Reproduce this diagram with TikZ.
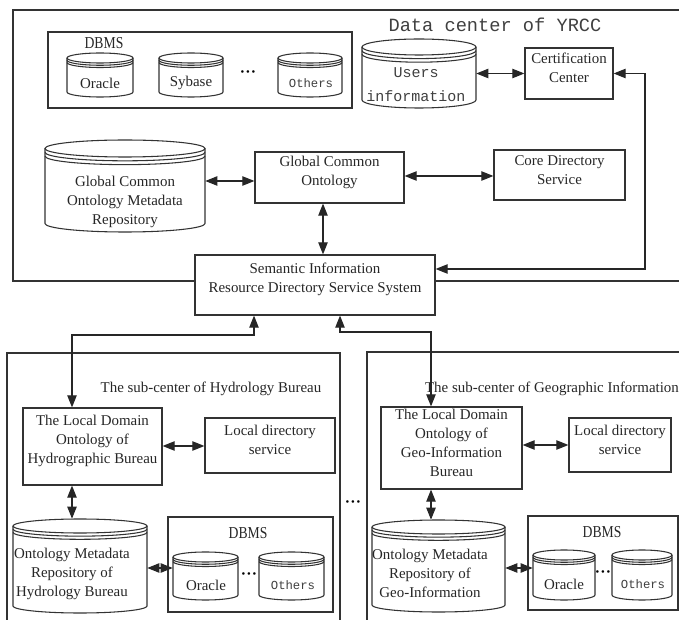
\documentclass[tikz,border=0pt]{standalone}
\usepackage{fontspec}
\setmainfont{Liberation Serif}
\newfontfamily\monofont{Liberation Mono}
\newfontfamily\condfont[FakeStretch=0.82]{Liberation Serif}
\usetikzlibrary{arrows.meta,fit}
\newcommand\serifsz{\fontsize{11.2}{14.2}\selectfont}
\tikzset{
  frame/.style={draw=black!80, line width=0.9pt},
  box/.style={draw=black!80, line width=0.9pt, inner sep=0pt, align=center, fill=white, text=black!85, font=\serifsz},
  cylline/.style={draw=black!80, line width=0.8pt},
  biarrow/.style={draw=black!85, line width=0.8pt, {Triangle[length=9pt,width=7pt]}-{Triangle[length=9pt,width=7pt]}},
  txt/.style={align=center, text=black!85, font=\serifsz, inner sep=0pt},
  monotxt/.style={align=center, text=black!75, inner sep=0pt},
  dbmslabel/.style={text=black!85, inner sep=0pt, font=\condfont\fontsize{12.5}{14}\selectfont},
  dotstxt/.style={text=black, inner sep=0pt, font=\fontsize{8}{8}\selectfont},
}
% name, x1, ytop, x2, ybot, ry
\newcommand\dbcyl[6]{%
  \draw[cylline] (#2,#3+#6) -- (#2,#5-#6) arc[start angle=180,end angle=0,x radius={(#4-#2)/2},y radius=#6] -- (#4,#3+#6);
  \draw[cylline] ({(#2+#4)/2},#3+#6) ellipse[x radius={(#4-#2)/2},y radius=#6];
  \draw[cylline] (#2,{#3+#6+0.45*#6}) arc[start angle=180,end angle=0,x radius={(#4-#2)/2},y radius=#6];
  \draw[cylline] (#2,{#3+#6+0.9*#6}) arc[start angle=180,end angle=0,x radius={(#4-#2)/2},y radius=#6];
  \node[fit={(#2,#3) (#4,#5)}, inner sep=0pt] (#1) {};
}
\begin{document}
\begin{tikzpicture}[x=0.75pt,y=-0.75pt]
\useasboundingbox[fill=white] (0,0) rectangle (679,620);

% ---------- Data center of YRCC ----------
\draw[frame] (13,10) rectangle (690,281);
\node[monotxt, font=\monofont\fontsize{14}{16}\selectfont] (title) at (495,25) {Data center of YRCC};

\draw[frame] (48,32) rectangle (352,108);
\node[dbmslabel] (dbmsA) at (104,43) {DBMS};
\dbcyl{oraA}{67}{53}{133}{97}{5}
\node[txt] (oraAt) at (100,83) {Oracle};
\dbcyl{sybA}{159}{53}{223}{97}{5}
\node[txt] (sybAt) at (191,83) {Sybase};
\node[dotstxt] (dotsA) at (248,73) {•\,•\,•};
\dbcyl{othA}{278}{53}{342}{97}{5}
\node[monotxt, font=\monofont\fontsize{9.2}{11}\selectfont] (othAt) at (311,83) {Others};

\dbcyl{users}{362}{39}{476}{108}{8}
\node[monotxt, font=\monofont\fontsize{11.25}{18}\selectfont] (userst) at (416,85) {Users\\information};

\node[box, fit={(525,48) (613,99)}] (cert) {Certification\\Center};

\dbcyl{gcr}{45}{140}{205}{232}{8.5}
\node[txt, font=\fontsize{11.2}{14.3}\selectfont] (gcrt) at (125,202) {Global Common\\Ontology Metadata\\Repository};

\node[box, fit={(255,152) (404,203)}] (gco) {Global Common\\Ontology};
\node[box, fit={(494,150) (625,200)}] (core) {Core Directory\\Service};
\node[box, fit={(195,255) (435,315)}] (semantic) {Semantic Information\\Resource Directory Service System};

% connectors top
\draw[biarrow] (users.east) -- (cert.west);
\coordinate (rc1) at (645,73.5);
\coordinate (rc2) at (645,269);
\draw[biarrow] (cert.east) -- (rc1) -- (rc2) -- (semantic.east |- rc2);
\draw[biarrow] (gcr.east |- 0,181) -- (gco.west |- 0,181);
\draw[biarrow] (gco.east |- 0,176) -- (core.west |- 0,176);
\draw[biarrow] (gco.south -| 323,0) -- (semantic.north -| 323,0);

% ---------- Hydrology sub-center ----------
\draw[frame] (7,353) rectangle (340,640);
\node[txt] (htitle) at (211,389) {The sub-center of Hydrology Bureau};
\node[box, fit={(23,408) (162,485)}] (hldo) {The Local Domain\\Ontology of\\Hydrographic Bureau};
\node[box, fit={(205,418) (335,473)}] (hlds) {Local directory\\service};
\dbcyl{hcyl}{13}{519}{147}{613}{7}
\node[txt] (hcylt) at (72,574) {Ontology Metadata\\Repository of\\Hydrology Bureau};
\draw[frame] (168,517) rectangle (333,612);
\node[dbmslabel] (dbmsH) at (248,533) {DBMS};
\dbcyl{hora}{173}{552}{238}{600}{5}
\node[txt] (horat) at (206,585) {Oracle};
\node[dotstxt] (dotsH) at (249,575) {•\,•\,•};
\dbcyl{hoth}{259}{552}{324}{600}{5}
\node[monotxt, font=\monofont\fontsize{9.2}{11}\selectfont] (hotht) at (293,585) {Others};

% ---------- Geographic sub-center ----------
\draw[frame] (367,352) rectangle (690,640);
\node[txt] (gtitle) at (552,389) {The sub-center of Geographic Information};
\node[box, fit={(381,407) (522,489)}] (gldo) {The Local Domain\\Ontology of\\Geo-Information\\Bureau};
\node[box, fit={(569,418) (671,472)}] (glds) {Local directory\\service};
\dbcyl{gcyl}{372}{520}{505}{612}{7}
\node[txt] (gcylt) at (430,573) {Ontology Metadata\\Repository of\\Geo-Information};
\draw[frame] (528,516) rectangle (678,610);
\node[dbmslabel] (dbmsG) at (602,532) {DBMS};
\dbcyl{gora}{533}{550}{595}{600}{5}
\node[txt] (gorat) at (564,584) {Oracle};
\node[dotstxt] (dotsG) at (603,573) {•\,•\,•};
\dbcyl{goth}{612}{550}{672}{600}{5}
\node[monotxt, font=\monofont\fontsize{9.2}{11}\selectfont] (gotht) at (643,584) {Others};

\node[dotstxt] (dotsM) at (353,503) {•\,•\,•};

% connectors bottom
\draw[biarrow] (semantic.south -| 254,0) -- (254,335) -| (hldo.north -| 72,0);
\draw[biarrow] (semantic.south -| 340,0) -- (340,332) -| (gldo.north -| 431,0);
\draw[biarrow] (hldo.east |- 0,446) -- (hlds.west |- 0,446);
\draw[biarrow] (hldo.south -| 72,0) -- (hcyl.north -| 72,0);
\draw[biarrow] (hcyl.east |- 0,568) -- (hora.west |- 0,568);
\draw[biarrow] (gldo.east |- 0,445) -- (glds.west |- 0,445);
\draw[biarrow] (gldo.south -| 431,0) -- (gcyl.north -| 431,0);
\draw[biarrow] (gcyl.east |- 0,568) -- (gora.west |- 0,568);
\end{tikzpicture}
\end{document}
